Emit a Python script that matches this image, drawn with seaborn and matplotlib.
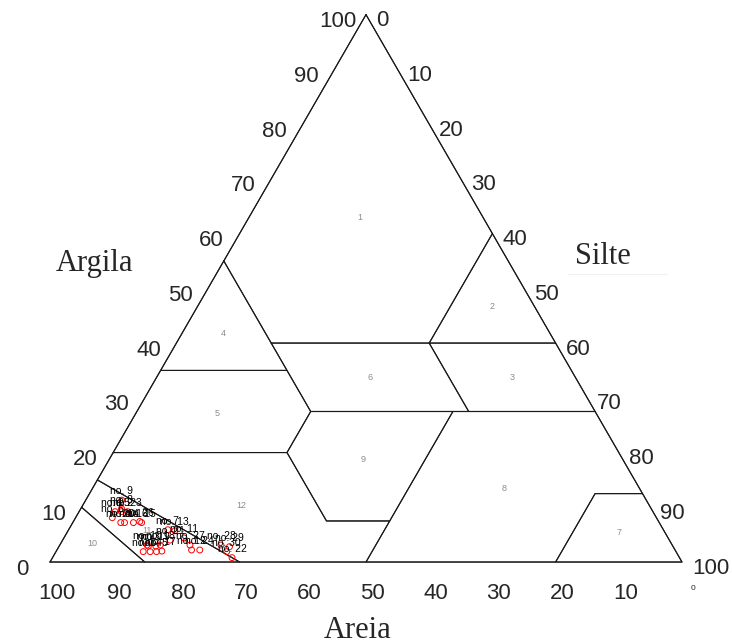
import numpy as np
import pandas as pd
import matplotlib
matplotlib.use("Agg")
import matplotlib.pyplot as plt
import seaborn as sns

# Sample texture data (%): clay (argila), silt (silte), sand (areia)
sample_labels = ["no. 1", "no. 2", "no. 3", "no. 4", "no. 5", "no. 6", "no. 7", "no. 8",
                 "no. 9", "no. 10", "no. 11", "no. 12", "no. 13", "no. 14", "no. 15",
                 "no. 16", "no. 17", "no. 18", "no. 19", "no. 20", "no. 21", "no. 22",
                 "no. 23", "no. 24", "no. 25", "no. 26", "no. 27", "no. 28", "no. 29",
                 "no. 30"]
clay = [1.9, 9.2, 2.9, 1.9, 1.9, 8.1, 5.9, 9.7, 11.3, 3.1, 4.4, 2.2, 5.7, 7.2, 7.2,
        7.2, 2.0, 3.1, 2.9, 7.2, 4.0, 0.8, 9.2, 2.2, 9.2, 7.4, 3.1, 3.1, 2.8, 1.9]
silt = [13.8, 6.7, 14.1, 14.9, 15.9, 5.8, 15.7, 6.5, 5.7, 13.8, 19.0, 21.3, 16.9, 8.2,
        10.9, 9.6, 16.7, 15.9, 15.3, 7.6, 17.0, 28.4, 7.7, 22.6, 5.7, 10.5, 20.6, 25.5,
        27.0, 27.0]
sand = [84.3, 84.1, 83.0, 83.2, 82.2, 86.1, 78.4, 83.8, 83.0, 83.1, 76.6, 76.5, 77.4,
        84.6, 81.9, 83.2, 81.3, 81.0, 81.8, 85.2, 79.0, 70.8, 83.1, 75.2, 85.1, 82.1,
        76.3, 71.4, 70.2, 71.1]

# USDA texture classes as (clay, silt) vertices
class_names = ["1", "2", "3", "4", "5", "6", "7", "8", "9", "10", "11", "12"]
class_polygons = [
    [(100, 0), (55, 0), (40, 15), (40, 40), (60, 40)],
    [(60, 40), (40, 40), (40, 60)],
    [(40, 60), (40, 40), (27.5, 52.5), (27.5, 72.5)],
    [(55, 0), (35, 0), (35, 20), (40, 15)],
    [(35, 0), (20, 0), (20, 27.5), (27.5, 27.5), (35, 20)],
    [(40, 15), (35, 20), (27.5, 27.5), (27.5, 52.5), (40, 40)],
    [(12.5, 87.5), (0, 100), (0, 80), (12.5, 80)],
    [(27.5, 50), (27.5, 72.5), (12.5, 87.5), (12.5, 80), (0, 80), (0, 50), (7.5, 50)],
    [(27.5, 27.5), (20, 27.5), (7.5, 40), (7.5, 50), (27.5, 50)],
    [(10, 0), (0, 15), (0, 0)],
    [(15, 0), (0, 30), (0, 15), (10, 0)],
    [(20, 0), (20, 27.5), (7.5, 40), (7.5, 50), (0, 50), (0, 30), (15, 0)],
]
axis_ticks = [0, 10, 20, 30, 40, 50, 60, 70, 80, 90, 100]

S3 = np.sqrt(3) / 2


def to_xy(c, s):
    c = np.asarray(c, dtype=float)
    s = np.asarray(s, dtype=float)
    return s + c / 2, c * S3


def centroid(px, py):
    px = np.append(px, px[0])
    py = np.append(py, py[0])
    cross = px[:-1] * py[1:] - px[1:] * py[:-1]
    a = cross.sum() / 2
    cx = ((px[:-1] + px[1:]) * cross).sum() / (6 * a)
    cy = ((py[:-1] + py[1:]) * cross).sum() / (6 * a)
    return cx, cy


sns.set_style("white")
plt.rcParams["font.family"] = ["Liberation Sans", "DejaVu Sans"]

fig = plt.figure(figsize=(7.32, 6.44), dpi=100)
ax = fig.add_axes([0, 0, 1, 1])
ax.set_xlim(-7.91, 107.91)
ax.set_ylim(-12.97, 88.92)
ax.axis("off")

line_kw = dict(color="#1a1a1a", lw=0.8, zorder=2)

# class boundaries and class numbers
for name, poly in zip(class_names, class_polygons):
    cs = [p[0] for p in poly]
    ss = [p[1] for p in poly]
    px, py = to_xy(cs, ss)
    ax.plot(np.append(px, px[0]), np.append(py, py[0]), **line_kw)
    cx, cy = centroid(px, py)
    ax.text(cx, cy, name, ha="center", va="center", fontsize=6.5, color="#8c8c8c", zorder=1)

# outer triangle
tx, ty = to_xy([0, 0, 100, 0], [0, 100, 0, 0])
ax.plot(tx, ty, **line_kw)

# axis tick labels
for v in axis_ticks:
    # Argila (left side)
    x, y = to_xy(v, 0)
    ax.annotate(str(v), (x, y), xytext=(-28, -7), textcoords="offset pixels",
                ha="center", va="center", fontsize=16)
    # Silte (right side)
    x, y = to_xy(100 - v, v)
    ax.annotate(str(v), (x, y), xytext=(10, -6), textcoords="offset pixels",
                ha="left", va="center", fontsize=16)
    # Areia (bottom)
    x, y = to_xy(0, 100 - v)
    if v == 0:
        ax.annotate(str(v), (x, y), xytext=(11, -26), textcoords="offset pixels",
                    ha="center", va="center", fontsize=6)
    else:
        ax.annotate(str(v), (x, y), xytext=(6.5, -31.5), textcoords="offset pixels",
                    ha="center", va="center", fontsize=16)

# axis titles
title_kw = dict(family=["Liberation Serif", "DejaVu Serif"], fontsize=22,
                transform=ax.transAxes, ha="center", va="baseline")
ax.text(95 / 732, 1 - 271 / 644, "Argila", **title_kw)
ax.text(603 / 732, 1 - 264 / 644, "Silte", **title_kw)
ax.text(358 / 732, 1 - 638 / 644, "Areia", **title_kw)
ax.plot([568 / 732, 667 / 732], [1 - 274 / 644, 1 - 274 / 644], color="#f0f0f0",
        lw=0.8, transform=ax.transAxes)

# samples
px, py = to_xy(clay, silt)
df = pd.DataFrame({"x": px, "y": py, "label": sample_labels,
                   "clay": clay, "silt": silt, "sand": sand})
sns.scatterplot(data=df, x="x", y="y", ax=ax, marker="o", s=18,
                facecolor="none", edgecolor="red", linewidth=0.7, zorder=3, legend=False)
for _, r in df.iterrows():
    ax.annotate(r["label"], (r["x"], r["y"]), xytext=(0, 9), textcoords="offset pixels",
                ha="center", va="center", fontsize=7.5, color="black", zorder=4)

ax.set_xlim(-7.91, 107.91)
ax.set_ylim(-12.97, 88.92)
fig.savefig("out.png", dpi=100)
